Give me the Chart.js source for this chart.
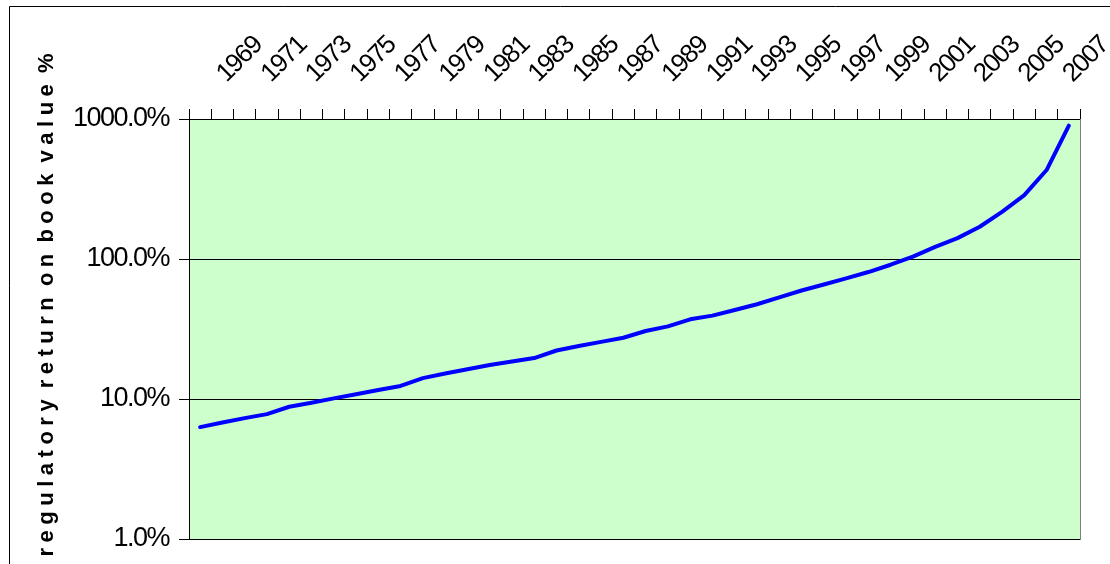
<!DOCTYPE html>
<html>
<head>
<meta charset="utf-8">
<script src="https://cdn.jsdelivr.net/npm/chart.js@4.4.1/dist/chart.umd.min.js"></script>
<style>
  html, body { margin: 0; padding: 0; background: #fff; }
  #wrap { width: 1110px; height: 564px; position: relative; overflow: hidden; }
</style>
</head>
<body>
<div id="wrap"><canvas id="returnChart" width="1110" height="564"></canvas></div>
<script>
// regulatory return on book value, percent, log scale
const years = [
  1968, 1969, 1970, 1971, 1972, 1973, 1974, 1975, 1976, 1977,
  1978, 1979, 1980, 1981, 1982, 1983, 1984, 1985, 1986, 1987,
  1988, 1989, 1990, 1991, 1992, 1993, 1994, 1995, 1996, 1997,
  1998, 1999, 2000, 2001, 2002, 2003, 2004, 2005, 2006, 2007
];
const returnPct = [
  6.3, 6.8, 7.3, 7.8, 8.8, 9.4, 10.1, 10.8, 11.6, 12.4,
  14.1, 15.2, 16.3, 17.5, 18.5, 19.6, 22.2, 23.9, 25.6, 27.4,
  30.6, 33.0, 37.1, 39.4, 43.2, 47.5, 53.2, 59.6, 65.7, 72.7,
  80.7, 91, 104, 122, 141, 170, 217, 286, 432, 896
];
const yTicks = [1, 10, 100, 1000];
const yTitle = "regulatory return on book value %";

const fontFam = "'Liberation Sans', Arial, sans-serif";

// plot area fill + grey frame, outer chart border, spaced-out axis title
const decorPlugin = {
  id: "decor",
  beforeDraw(chart) {
    const { ctx, chartArea: a } = chart;
    ctx.save();
    ctx.fillStyle = "#CCFFCC";
    ctx.fillRect(a.left, a.top, a.right - a.left, a.bottom - a.top);
    ctx.restore();
    // the original uses a narrow face, squeeze the tick labels a bit
    ctx.letterSpacing = "-1.5px";
  },
  afterDraw(chart) {
    const { ctx, chartArea: a } = chart;
    ctx.letterSpacing = "0px";
    ctx.save();
    ctx.strokeStyle = "#808080";
    ctx.lineWidth = 1;
    ctx.beginPath();
    ctx.moveTo(Math.round(a.right) + 0.5, a.top);
    ctx.lineTo(Math.round(a.right) + 0.5, a.bottom + 1);
    ctx.stroke();

    ctx.strokeStyle = "#000";
    ctx.beginPath();
    ctx.moveTo(9.5, 600);
    ctx.lineTo(9.5, 6.5);
    ctx.lineTo(1200, 6.5);
    ctx.stroke();

    ctx.translate(53, 48);
    ctx.rotate(-Math.PI / 2);
    ctx.font = "bold 22px " + fontFam;
    ctx.letterSpacing = "5.5px";
    ctx.wordSpacing = "-6px";
    ctx.fillStyle = "#000";
    ctx.textAlign = "right";
    ctx.textBaseline = "alphabetic";
    ctx.fillText(yTitle, 0, 0);
    ctx.restore();
  }
};

new Chart(document.getElementById("returnChart"), {
  type: "line",
  data: {
    labels: years,
    datasets: [{
      data: returnPct,
      borderColor: "#0000FF",
      borderWidth: 4,
      borderCapStyle: "round",
      borderJoinStyle: "round",
      pointRadius: 0,
      tension: 0,
      fill: false
    }]
  },
  options: {
    responsive: false,
    animation: false,
    devicePixelRatio: 1,
    layout: { padding: { top: 0, right: 30, bottom: 25, left: 0 } },
    plugins: {
      legend: { display: false },
      tooltip: { enabled: false }
    },
    scales: {
      x: {
        type: "category",
        position: "top",
        offset: true,
        grid: {
          offset: true,
          drawOnChartArea: false,
          drawTicks: true,
          tickLength: 10,
          color: "#000"
        },
        border: { display: true, color: "#000", width: 1 },
        ticks: {
          autoSkip: false,
          maxRotation: 45,
          minRotation: 45,
          padding: 20,
          labelOffset: 21,
          color: "#000",
          font: { family: fontFam, size: 26 },
          callback: (v, i) => (years[i] % 2 === 1 ? String(years[i]) : "")
        },
        afterFit: s => { s.height = 119; s.paddingLeft = 0; s.paddingRight = 0; }
      },
      y: {
        type: "logarithmic",
        min: 1,
        max: 1000,
        grid: {
          color: "#000",
          lineWidth: 1,
          tickLength: 10
        },
        border: { display: true, color: "#000", width: 1 },
        afterBuildTicks: s => { s.ticks = yTicks.map(v => ({ value: v })); },
        ticks: {
          padding: 10,
          color: "#000",
          font: { family: fontFam, size: 27 },
          callback: v => Number(v).toFixed(1) + "%"
        },
        afterFit: s => { s.width = 189; s.paddingTop = 0; s.paddingBottom = 0; }
      }
    }
  },
  plugins: [decorPlugin]
});
</script>
</body>
</html>
